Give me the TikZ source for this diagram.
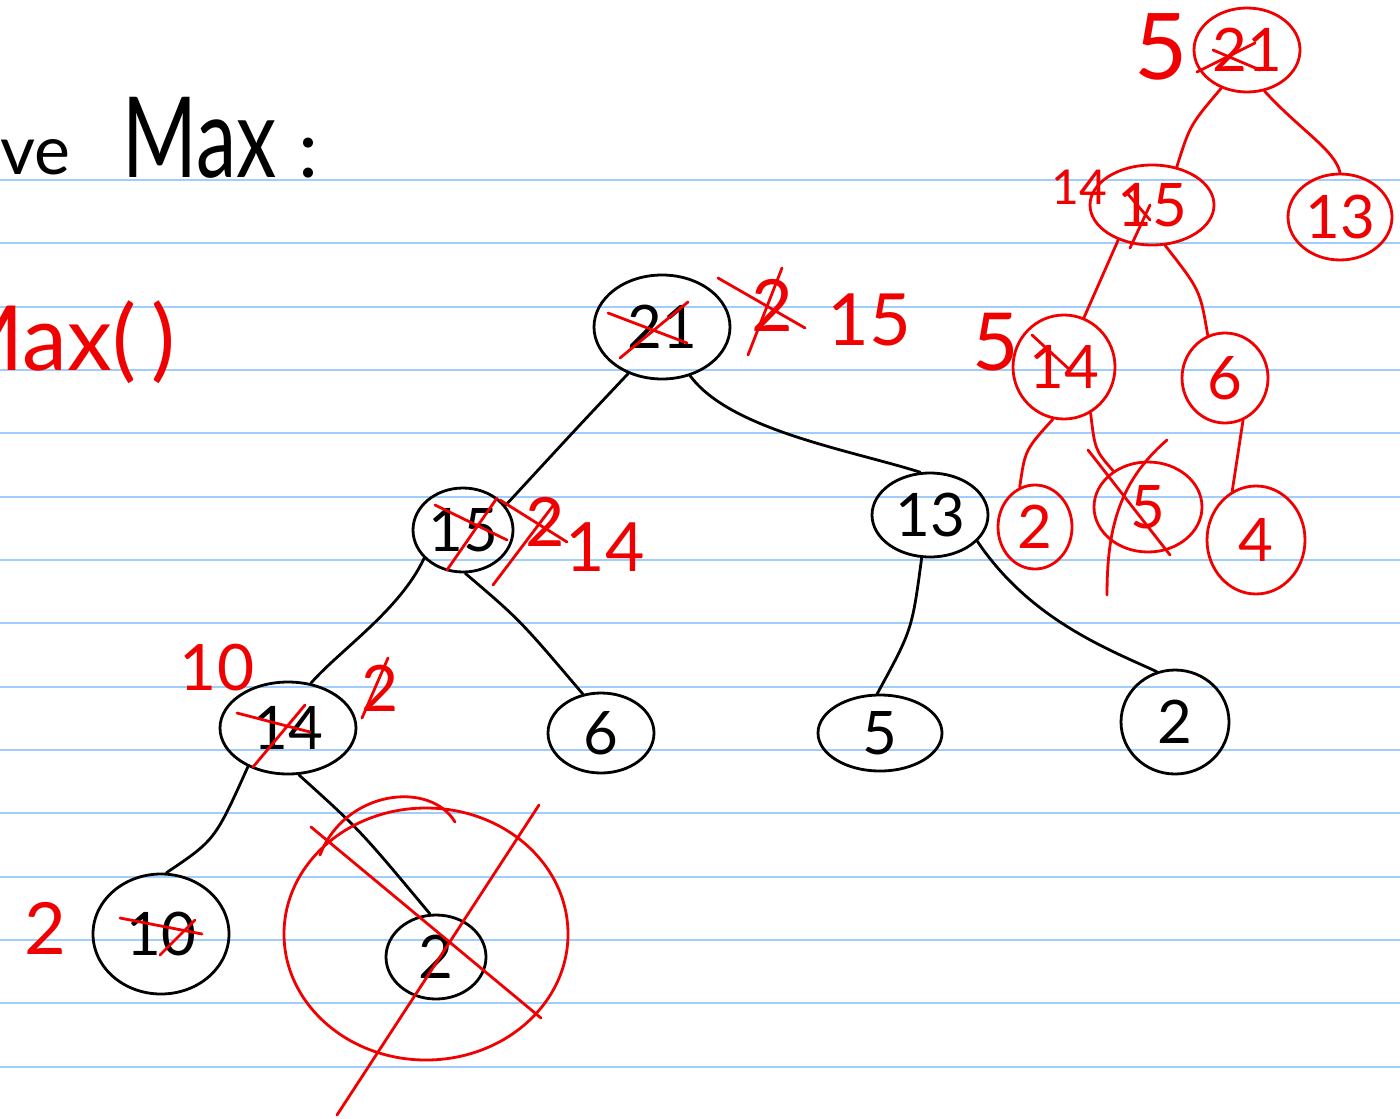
\documentclass[tikz,border=0pt]{standalone}
\usepackage{fontspec}
\newfontfamily\hand{Lato}
\usetikzlibrary{shapes.geometric}
\definecolor{rule}{RGB}{160,205,250}
\definecolor{ink}{RGB}{0,0,0}
\definecolor{pen}{RGB}{240,0,0}
\tikzset{
 bn/.style={ellipse, draw=ink, line width=1.4pt, inner sep=0pt, text=ink, font=\hand\fontsize{30}{30}\selectfont},
 rn/.style={bn, draw=pen, text=pen},
 be/.style={draw=ink, line width=1.4pt, line cap=round},
 re/.style={draw=pen, line width=1.4pt, line cap=round},
 rt/.style={text=pen, inner sep=0pt, font=\hand\fontsize{#1}{#1}\selectfont},
 rt/.default=30,
 bt/.style={text=ink, inner sep=0pt, font=\hand\fontsize{#1}{#1}\selectfont},
 bt/.default=30
}
\begin{document}
\begin{tikzpicture}[x=0.5pt,y=-0.5pt]
\fill[white] (0,0) rectangle (1400,1118);
\useasboundingbox (0,0) rectangle (1400,1118);
\foreach \i in {0,...,14} \draw[rule, line width=1pt] (0,{180+63.33*\i}) -- (1400,{180+63.33*\i});

% header
\node[bt=34, anchor=base west] (hve) at (0,175) {ve};
\node[bt=56, anchor=base west] (hmax) at (122,177) {\scalebox{0.72}[1]{Max}};
\node[bt=40, anchor=base west] (hcol) at (298,177) {:};
\node[rt=45, anchor=base west] (rmax) at (-60,370) {Max(\,)};

% black tree
\node[bn, minimum width=68pt, minimum height=52pt] (r) at (662,327) {21};
\node[bn, minimum width=50pt, minimum height=42pt] (n15) at (463,530) {15};
\node[bn, minimum width=58pt, minimum height=42pt] (n13) at (930,515) {13};
\node[bn, minimum width=68pt, minimum height=46pt] (n14) at (288,728) {14};
\node[bn, minimum width=53pt, minimum height=40pt] (n6) at (601,733) {6};
\node[bn, minimum width=62pt, minimum height=38pt] (n5) at (880,733) {5};
\node[bn, minimum width=54pt, minimum height=52pt] (n2a) at (1175,722) {2};
\node[bn, minimum width=68pt, minimum height=60pt] (n10) at (161,934) {10};
\node[bn, minimum width=50pt, minimum height=42pt] (n2b) at (436,957) {2};

\draw[be] (r.234) .. controls (575,430) .. (n15.30);
\draw[be] (r.-60) .. controls (730,430) and (850,450) .. (n13.103);
\draw[be] (n15.216) .. controls (400,610) and (340,650) .. (n14.63);
\draw[be] (n15.-87) .. controls (520,620) .. (n6.115);
\draw[be] (n13.-101) .. controls (912,630) .. (n5.94);
\draw[be] (n13.-29) .. controls (1030,620) and (1110,650) .. (n2a.110);
\draw[be] (n14.224) .. controls (215,840) .. (n10.85);
\draw[be] (n14.-77) .. controls (360,830) .. (n2b.98);

% red marks on black tree
\draw[re] (608,313) -- (687,343);
\draw[re] (620,358) -- (688,302);
\node[rt=36] (c2a) at (772,305) {2};
\draw[re] (718,278) -- (805,328);
\draw[re] (782,268) -- (748,355);
\node[rt=36] (l15) at (869,320) {15};

\draw[re] (435,505) -- (507,540);
\draw[re] (447,570) -- (497,498);
\node[rt=34] (c2b) at (545,522) {2};
\draw[re] (500,500) -- (567,542);
\draw[re] (555,503) -- (493,585);
\node[rt=34] (l14) at (605,547) {14};

\node[rt=32] (l10) at (217,668) {10};
\draw[re] (237,713) -- (310,732);
\draw[re] (253,767) -- (305,705);
\node[rt=32] (c2c) at (380,688) {2};
\draw[re] (362,718) -- (388,658);

\draw[re] (120,918) -- (202,934);
\draw[re] (160,955) -- (195,920);
\node[rt=36] (l2) at (45,928) {2};

\draw[re] (426,934) ellipse [x radius=142, y radius=126];
\draw[re] (320,855) .. controls (345,790) and (430,780) .. (455,822);
\draw[re] (311,827) -- (541,1018);
\draw[re] (539,805) -- (337,1115);

% red tree
\node[rn, minimum width=53pt, minimum height=42pt] (R21) at (1247,50) {21};
\node[rn, minimum width=62pt, minimum height=40pt] (R15) at (1152,205) {15};
\node[rn, minimum width=52pt, minimum height=43pt] (R13) at (1340,217) {13};
\node[rn, minimum width=51pt, minimum height=52pt] (R14) at (1064,367) {14};
\node[rn, minimum width=43pt, minimum height=45pt] (R6) at (1225,378) {6};
\node[rn, minimum width=37pt, minimum height=42pt] (R2) at (1035,527) {2};
\node[rn, minimum width=54pt, minimum height=45pt] (R5) at (1148,507) {5};
\node[rn, minimum width=49pt, minimum height=54pt] (R4) at (1256,540) {4};

\draw[re] (R21.236) .. controls (1190,125) .. (R15.57);
\draw[re] (R21.-67) .. controls (1300,130) and (1335,150) .. (R13.90);
\draw[re] (R15.226) -- (R14.68);
\draw[re] (R15.-72) .. controls (1200,290) .. (R6.112);
\draw[re] (R14.258) .. controls (1025,450) .. (R2.111);
\draw[re] (R14.-60) .. controls (1095,450) .. (R5.134);
\draw[re] (R6.-67) -- (R4.116);

\draw[re] (1197,72) -- (1255,43);
\draw[re] (1213,50) -- (1260,70);
\node[rt=46] (m5a) at (1161,47) {5};
\draw[re] (1127,193) -- (1150,220);
\draw[re] (1150,205) -- (1130,248);
\node[rt=24] (m14) at (1079,187) {14};
\draw[re] (1032,335) -- (1070,370);
\node[rt=40] (m5b) at (996,342) {5};
\draw[re] (1088,450) -- (1170,555);
\draw[re] (1167,440) .. controls (1117,483) and (1107,533) .. (1107,595);
\end{tikzpicture}
\end{document}
